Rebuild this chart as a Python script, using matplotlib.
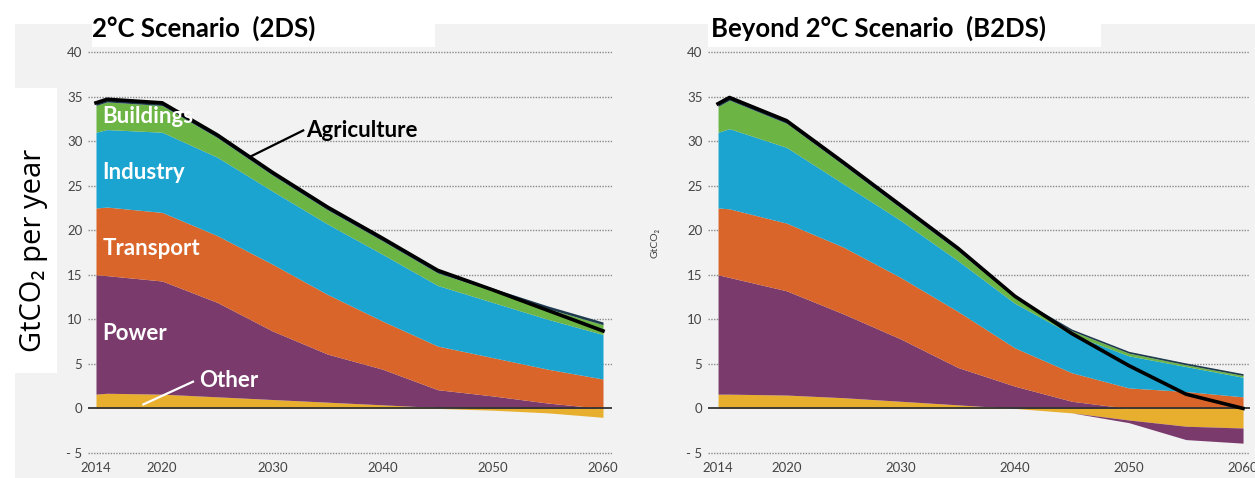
import numpy as np
import matplotlib.pyplot as plt
from matplotlib.patches import Rectangle

plt.rcParams['font.family'] = ['Lato', 'DejaVu Sans']

# data (GtCO2 per year, by sector)
years = [2014, 2015, 2020, 2025, 2030, 2035, 2040, 2045, 2050, 2055, 2060]
sectors = ['Other', 'Power', 'Transport', 'Industry', 'Buildings', 'Agriculture']

other_2ds = [1.6, 1.7, 1.6, 1.3, 1.0, 0.7, 0.4, 0.1, -0.2, -0.5, -1.0]
power_2ds = [13.4, 13.2, 12.7, 10.6, 7.7, 5.4, 4.0, 2.0, 1.4, 0.6, 0.0]
transport_2ds = [7.5, 7.7, 7.7, 7.5, 7.5, 6.7, 5.4, 4.9, 4.3, 3.8, 3.3]
industry_2ds = [8.5, 8.7, 9.0, 8.8, 8.2, 7.9, 7.5, 6.8, 6.2, 5.6, 5.0]
buildings_2ds = [3.0, 3.1, 3.0, 2.2, 1.8, 1.6, 1.5, 1.4, 1.3, 1.2, 1.1]
agri_2ds = [0.3, 0.3, 0.3, 0.3, 0.3, 0.3, 0.3, 0.3, 0.3, 0.3, 0.3]

other_b2ds = [1.6, 1.6, 1.5, 1.2, 0.8, 0.4, 0.0, -0.5, -1.3, -2.0, -2.2]
power_b2ds = [13.4, 13.1, 11.7, 9.4, 7.0, 4.2, 2.5, 0.8, -0.3, -1.5, -1.7]
transport_b2ds = [7.5, 7.7, 7.6, 7.5, 6.9, 6.3, 4.3, 3.2, 2.3, 1.9, 1.3]
industry_b2ds = [8.5, 9.0, 8.5, 7.1, 6.4, 5.7, 5.0, 4.3, 3.6, 2.8, 2.2]
buildings_b2ds = [2.9, 3.2, 2.7, 2.1, 1.4, 1.1, 0.6, 0.4, 0.3, 0.2, 0.2]
agri_b2ds = [0.3, 0.3, 0.3, 0.3, 0.3, 0.3, 0.2, 0.2, 0.2, 0.2, 0.2]

yticks = [-5, 0, 5, 10, 15, 20, 25, 30, 35, 40]
ytick_labels = ['- 5', '0', '5', '10', '15', '20', '25', '30', '35', '40']
xticks = [2014, 2020, 2030, 2040, 2050, 2060]

colors = ['#E8AE2E', '#7A3A6C', '#D9652A', '#1AA4CF', '#6CB545', '#1D3A4E']

W, H = 1255, 478
fig = plt.figure(figsize=(W / 100, H / 100), dpi=100)
fig.patch.set_facecolor('white')


def box(x0, y0, x1, y1, color):
    # rectangle in pixel coords (origin top-left)
    fig.patches.append(Rectangle((x0 / W, 1 - y1 / H), (x1 - x0) / W, (y1 - y0) / H,
                                 transform=fig.transFigure, facecolor=color,
                                 edgecolor='none', zorder=-10))


box(15, 24, 1255, 478, '#F2F2F2')
box(92, 24, 435, 47, 'white')
box(708, 24, 1101, 47, 'white')
box(15, 88, 57, 373, 'white')


def make_ax(x0, x1):
    ax = fig.add_axes([x0 / W, 1 - 458.3 / H, (x1 - x0) / W, (458.3 - 46.7) / H])
    ax.set_facecolor('none')
    for s in ax.spines.values():
        s.set_visible(False)
    ax.set_ylim(-5.6, 40.6)
    ax.set_yticks(yticks)
    ax.set_yticklabels(ytick_labels)
    ax.set_xticks(xticks)
    ax.tick_params(length=0, labelsize=9.5, colors='#444444', pad=4)
    ax.tick_params(axis='x', pad=3)
    for v in yticks:
        if v == 0:
            continue
        ax.axhline(v, color='#8a8a8a', lw=1.0, ls=(0, (1, 1)), zorder=0)
    return ax


def draw_stack(ax, layers):
    x = np.array(years, dtype=float)
    pos_base = np.zeros(len(x))
    neg_base = np.zeros(len(x))
    for vals, c in zip(layers, colors):
        v = np.array(vals, dtype=float)
        p = np.clip(v, 0, None)
        n = np.clip(v, None, 0)
        ax.fill_between(x, pos_base, pos_base + p, color=c, lw=0, zorder=2)
        ax.fill_between(x, neg_base + n, neg_base, color=c, lw=0, zorder=2)
        pos_base = pos_base + p
        neg_base = neg_base + n
    net = np.sum(np.array(layers, dtype=float), axis=0)
    ax.axhline(0, color='#333333', lw=1.3, zorder=4)
    ax.plot(x, net, color='black', lw=2.6, zorder=5, solid_joinstyle='round')


# left panel: 2DS
ax1 = make_ax(88, 612)
ax1.set_xlim(2013.274, 2060.817)
draw_stack(ax1, [other_2ds, power_2ds, transport_2ds, industry_2ds, buildings_2ds, agri_2ds])

lab = dict(color='white', fontsize=16, fontweight='bold', va='center', ha='left', zorder=6)
ax1.text(2014.6, 32.8, 'Buildings', **lab)
ax1.text(2014.6, 26.5, 'Industry', **lab)
ax1.text(2014.6, 18.0, 'Transport', **lab)
ax1.text(2014.6, 8.4, 'Power', **lab)
ax1.text(2023.4, 3.1, 'Other', **lab)
ax1.plot([2018.3, 2022.8], [0.45, 3.0], color='white', lw=1.6, zorder=6)
ax1.text(2033.1, 31.2, 'Agriculture', color='black', fontsize=16, fontweight='bold',
         va='center', ha='left', zorder=6)
ax1.plot([2027.9, 2032.8], [28.2, 31.2], color='black', lw=1.6, zorder=6)

# right panel: B2DS
ax2 = make_ax(708, 1250)
ax2.set_xlim(2013.12, 2060.61)
draw_stack(ax2, [other_b2ds, power_b2ds, transport_b2ds, industry_b2ds, buildings_b2ds, agri_b2ds])

# titles and axis labels
fig.text(92 / W, 1 - 28 / H, '2°C Scenario  (2DS)', fontsize=18.5, fontweight='bold',
         ha='left', va='center')
fig.text(711 / W, 1 - 28 / H, 'Beyond 2°C Scenario  (B2DS)', fontsize=18.5, fontweight='bold',
         ha='left', va='center')
fig.text(34 / W, 1 - 250 / H, 'GtCO₂ per year', fontsize=21, rotation=90,
         ha='center', va='center', family=['Open Sans', 'DejaVu Sans'])
fig.text(655 / W, 1 - 243 / H, 'GtCO₂', fontsize=7.5, rotation=90, color='#444444',
         ha='center', va='center')

fig.savefig('out.png', dpi=100)
